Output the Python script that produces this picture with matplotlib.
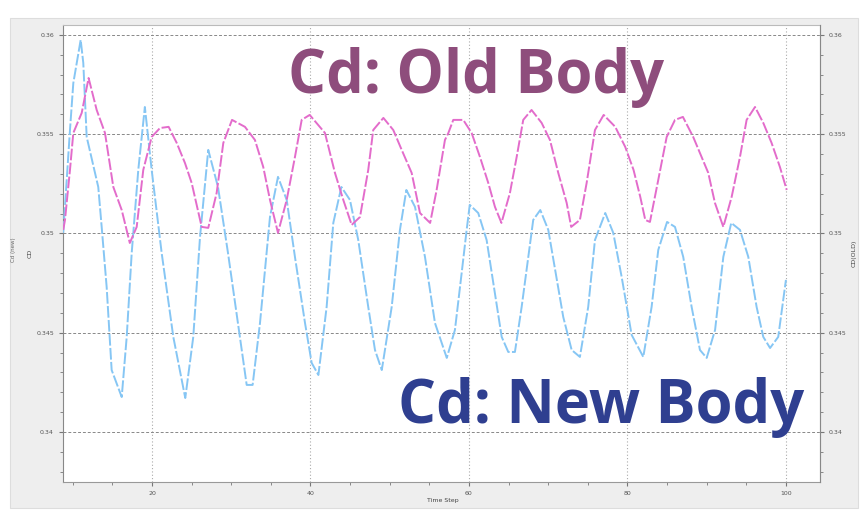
import matplotlib
matplotlib.use("Agg")
import matplotlib.pyplot as plt
from matplotlib.patches import Rectangle
from matplotlib.ticker import MultipleLocator

# ---- data ----
t_new = [8.8, 9.65, 10.07, 11.0, 11.33, 11.76, 13.22, 13.65, 14.28, 14.91, 16.18,
         16.81, 17.44, 18.27, 19.1, 19.96, 21.22, 22.69, 24.2, 25.21, 26.06, 27.1,
         28.33, 29.59, 31.95, 32.7, 33.63, 34.89, 35.9, 37.0, 38.04, 39.31, 40.15,
         41.0, 42.04, 42.88, 43.9, 44.98, 46.03, 47.29, 48.14, 49.0, 50.25, 51.29,
         52.1, 53.19, 54.45, 55.71, 57.2, 58.23, 59.08, 59.71, 60.1, 61.17, 62.23,
         64.13, 64.96, 65.8, 66.65, 68.11, 69.0, 70.01, 71.9, 72.96, 74.0, 75.05,
         75.9, 77.2, 78.21, 79.27, 80.53, 82.0, 83.05, 83.89, 85.0, 86.0, 87.04,
         88.1, 89.15, 90.0, 91.06, 92.1, 93.1, 94.2, 95.25, 96.3, 97.14, 98.0,
         99.03, 100.0]
cd_new = [0.35003, 0.35521, 0.35757, 0.35975, 0.35859, 0.35486, 0.35234, 0.35033,
          0.34730, 0.34312, 0.34176, 0.34479, 0.34902, 0.35320, 0.35637, 0.35320,
          0.34902, 0.34479, 0.34171, 0.34479, 0.34982, 0.35421, 0.35234, 0.34902,
          0.34237, 0.34237, 0.34549, 0.35083, 0.35285, 0.35169, 0.34882, 0.34549,
          0.34348, 0.34287, 0.34630, 0.35053, 0.35234, 0.35169, 0.34967, 0.34630,
          0.34413, 0.34312, 0.34630, 0.35018, 0.35219, 0.35134, 0.34882, 0.34549,
          0.34373, 0.34514, 0.34801, 0.35018, 0.35144, 0.35103, 0.34967, 0.34479,
          0.34403, 0.34403, 0.34630, 0.35068, 0.35118, 0.35018, 0.34579, 0.34413,
          0.34378, 0.34630, 0.34967, 0.35103, 0.35003, 0.34781, 0.34489, 0.34378,
          0.34630, 0.34917, 0.35058, 0.35033, 0.34882, 0.34630, 0.34413, 0.34373,
          0.34514, 0.34882, 0.35053, 0.35018, 0.34882, 0.34630, 0.34479, 0.34423,
          0.34479, 0.34766]

t_old = [8.8, 9.02, 9.65, 10.07, 11.13, 12.0, 13.02, 14.07, 15.12, 16.18, 17.2,
         18.07, 18.9, 19.96, 21.01, 22.1, 23.12, 24.16, 25.01, 26.27, 27.1, 28.16,
         29.0, 30.1, 31.73, 32.99, 34.04, 34.89, 35.9, 37.0, 38.04, 38.89, 39.9,
         41.83, 43.09, 44.14, 45.2, 46.25, 47.29, 47.92, 49.2, 50.45, 51.51, 52.77,
         53.82, 55.1, 55.92, 56.97, 57.39, 58.02, 59.28, 60.34, 61.39, 62.44, 63.28,
         64.1, 65.17, 66.02, 66.85, 67.9, 69.17, 70.22, 71.27, 72.33, 72.9, 74.0,
         74.85, 75.9, 77.0, 78.46, 79.72, 80.77, 81.62, 82.25, 82.84, 83.89, 84.95,
         86.0, 87.0, 88.3, 89.36, 90.2, 91.04, 92.1, 93.15, 94.2, 95.04, 96.1,
         97.14, 98.19, 99.24, 100.1]
cd_old = [0.35018, 0.35068, 0.35320, 0.35506, 0.35607, 0.35783, 0.35622, 0.35506,
          0.35234, 0.35118, 0.34952, 0.35033, 0.35320, 0.35486, 0.35531, 0.35537,
          0.35456, 0.35355, 0.35254, 0.35033, 0.35028, 0.35204, 0.35456, 0.35572,
          0.35537, 0.35471, 0.35335, 0.35169, 0.35003, 0.35169, 0.35385, 0.35572,
          0.35597, 0.35506, 0.35305, 0.35169, 0.35043, 0.35083, 0.35320, 0.35521,
          0.35582, 0.35521, 0.35421, 0.35305, 0.35103, 0.35053, 0.35219, 0.35471,
          0.35505, 0.35572, 0.35572, 0.35506, 0.35385, 0.35254, 0.35134, 0.35053,
          0.35204, 0.35385, 0.35572, 0.35622, 0.35557, 0.35471, 0.35305, 0.35154,
          0.35033, 0.35068, 0.35254, 0.35521, 0.35597, 0.35537, 0.35436, 0.35320,
          0.35184, 0.35068, 0.35058, 0.35270, 0.35486, 0.35572, 0.35587, 0.35486,
          0.35385, 0.35305, 0.35154, 0.35033, 0.35184, 0.35385, 0.35572, 0.35637,
          0.35557, 0.35456, 0.35335, 0.35219]

x_ticks = [20, 40, 60, 80, 100]
x_tick_labels = ["20", "40", "60", "80", "100"]
y_ticks = [0.34, 0.345, 0.35, 0.355, 0.36]
y_tick_labels = ["0.34", "0.345", "0.35", "0.355", "0.36"]
label_old = "Cd: Old Body"
label_new = "Cd: New Body"

W, H = 864, 516
fig = plt.figure(figsize=(W / 100, H / 100), dpi=100)
fig.patch.set_facecolor("white")

# outer gray panel
panel = Rectangle((10 / W, 1 - 508 / H), 848 / W, 490 / H,
                  transform=fig.transFigure, facecolor="#eeeeee",
                  edgecolor="#dddddd", lw=0.8, zorder=-5)
fig.patches.append(panel)

ax = fig.add_axes([63 / W, 1 - 482 / H, (820 - 63) / W, (482 - 25) / H])
ax.set_zorder(1)
ax.set_facecolor("white")
ax.set_xlim(8.77, 104.3)
ax.set_ylim(0.33748, 0.36050)

ax.plot(t_new, cd_new, color="#86c6f4", lw=1.4, ls=(0, (6, 1.2)), zorder=3)
ax.plot(t_old, cd_old, color="#e36ccb", lw=1.4, ls=(0, (6, 1.2)), zorder=3)

ax.set_xticks(x_ticks)
ax.set_xticklabels(x_tick_labels)
ax.xaxis.set_minor_locator(MultipleLocator(5))
ax.set_yticks(y_ticks)
ax.set_yticklabels(y_tick_labels)
ax.yaxis.set_minor_locator(MultipleLocator(0.001))

ax.grid(True, which="major", axis="y", color="#888888", ls=(0, (3, 2)), lw=0.7)
ax.grid(True, which="major", axis="x", color="#aaaaaa", ls=(0, (1, 2)), lw=0.8)

for s in ax.spines.values():
    s.set_color("#bbbbbb")
    s.set_linewidth(0.8)
ax.spines["left"].set_color("#888888")
ax.spines["bottom"].set_color("#999999")

ax.tick_params(axis="both", which="both", colors="#777777", labelsize=4.5,
               labelcolor="#555555", direction="out")
ax.tick_params(which="major", length=3)
ax.tick_params(which="minor", length=2)

ax2 = ax.twinx()
ax2.set_ylim(ax.get_ylim())
ax2.set_yticks(y_ticks)
ax2.set_yticklabels(y_tick_labels)
ax2.yaxis.set_minor_locator(MultipleLocator(0.001))
ax2.tick_params(axis="y", which="both", colors="#777777", labelsize=4.5,
                labelcolor="#555555", direction="out")
ax2.tick_params(which="major", length=3)
ax2.tick_params(which="minor", length=2)
for s in ax2.spines.values():
    s.set_visible(False)
ax2.spines["right"].set_visible(True)
ax2.spines["right"].set_color("#888888")
ax2.spines["right"].set_linewidth(0.8)

ax.set_xlabel("Time Step", fontsize=4.5, color="#444444")
ax.xaxis.set_label_coords((443 - 63) / (820 - 63), -0.035)
ax.set_ylabel("CD", fontsize=4.5, color="#444444")
ax.yaxis.set_label_coords(-(63 - 33) / (820 - 63), 0.5)
ax2.set_ylabel("CD(OLD)", fontsize=4.5, color="#444444")
ax2.yaxis.set_label_coords(1 + (852 - 820) / (820 - 63), 0.5)
fig.text(13 / W, 1 - 250 / H, "Cd (new)", rotation=90, fontsize=4,
         color="#666666", ha="center", va="center")

fig.text(476 / W, 1 - 78 / H, label_old, fontsize=43, fontweight="bold",
         family="Open Sans", color="#8e4d7c", ha="center", va="center",
         zorder=10)
fig.text(601 / W, 1 - 407 / H, label_new, fontsize=43, fontweight="bold",
         family="Open Sans", color="#2f3f90", ha="center", va="center",
         zorder=10)

fig.savefig("out.png", dpi=100)
